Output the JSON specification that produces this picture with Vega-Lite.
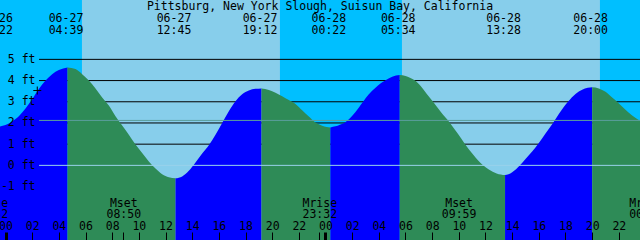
{
  "$schema": "https://vega.github.io/schema/vega-lite/v6.json",
  "width": 640,
  "height": 240,
  "autosize": {"type": "none"},
  "padding": 0,
  "background": "#87CEEB",
  "config": {
    "view": {"stroke": null},
    "font": "DejaVu Sans Mono",
    "axis": {"labelFont": "DejaVu Sans Mono", "labelFontSize": 11.5, "labelColor": "#000000", "domain": false, "grid": false, "labelFlush": false, "labelOverlap": false}
  },
  "title": {"text": "Pittsburg, New York Slough, Suisun Bay, California", "font": "DejaVu Sans Mono", "fontSize": 11.5, "fontWeight": "normal", "color": "#000000", "anchor": "middle", "frame": "group", "offset": -12},
  "resolve": {"axis": {"x": "independent"}},
  "layer": [
    {
      "data": {"values": [
        {"start": "2024-06-26T20:35", "end": "2024-06-27T05:44"},
        {"start": "2024-06-27T20:35", "end": "2024-06-28T05:44"},
        {"start": "2024-06-28T20:35", "end": "2024-06-29T05:45"}
      ]},
      "mark": {"type": "rect", "color": "#00BFFF"},
      "encoding": {
        "x": {"field": "start", "type": "temporal", "title": null,
          "scale": {"domain": [{"year": 2024, "month": 6, "date": 26, "hours": 22, "minutes": 35, "seconds": 15}, {"year": 2024, "month": 6, "date": 29, "hours": 0, "minutes": 35, "seconds": 15}], "range": [-13.3333, 653.3333], "nice": false},
          "axis": {"orient": "top", "title": null,
            "values": [
              {"year": 2024, "month": 6, "date": 26, "hours": 23, "minutes": 22},
              {"year": 2024, "month": 6, "date": 27, "hours": 4, "minutes": 39},
              {"year": 2024, "month": 6, "date": 27, "hours": 12, "minutes": 45},
              {"year": 2024, "month": 6, "date": 27, "hours": 19, "minutes": 12},
              {"year": 2024, "month": 6, "date": 28, "hours": 0, "minutes": 22},
              {"year": 2024, "month": 6, "date": 28, "hours": 5, "minutes": 34},
              {"year": 2024, "month": 6, "date": 28, "hours": 13, "minutes": 28},
              {"year": 2024, "month": 6, "date": 28, "hours": 20, "minutes": 0}
            ],
            "labelExpr": "[timeFormat(datum.value, '%m-%d'), timeFormat(datum.value, '%H:%M')]",
            "ticks": false, "tickSize": 0, "labelAlign": "center", "labelBaseline": "top", "labelPadding": -12.4, "labelLineHeight": 12, "labelOffset": -2, "zindex": 1}
        },
        "x2": {"field": "end"}
      }
    },
    {
      "data": {"values": [{"ft": 1}, {"ft": 2}, {"ft": 3}, {"ft": 4}, {"ft": 5}]},
      "mark": {"type": "rule", "color": "#000000", "strokeWidth": 1},
      "encoding": {
        "x": {"datum": {"year": 2024, "month": 6, "date": 27, "hours": 2, "minutes": 31}, "type": "temporal", "axis": null,
          "scale": {"domain": [{"year": 2024, "month": 6, "date": 26, "hours": 22, "minutes": 35, "seconds": 15}, {"year": 2024, "month": 6, "date": 29, "hours": 0, "minutes": 35, "seconds": 15}], "range": [-13.3333, 653.3333], "nice": false}},
        "x2": {"datum": {"year": 2024, "month": 6, "date": 29, "hours": 0, "minutes": 0}},
        "y": {"field": "ft", "type": "quantitative", "title": null, "scale": {"domain": [-3.52, 7.8], "zero": false, "nice": false},
          "axis": {"orient": "left", "title": null, "values": [-1, 0, 1, 2, 3, 4, 5], "labelExpr": "datum.value + ' ft'",
            "ticks": false, "tickSize": 0, "labelAlign": "right", "labelBaseline": "middle", "labelPadding": -35, "zindex": 1}}
      }
    },
    {
      "data": {"values": [
        {"t": "2024-06-26T23:22", "ft": 1.82, "seg": "r0", "dir": "rising"},
        {"t": "2024-06-27T00:00", "ft": 1.9, "seg": "r0", "dir": "rising"},
        {"t": "2024-06-27T00:30", "ft": 2.08, "seg": "r0", "dir": "rising"},
        {"t": "2024-06-27T01:00", "ft": 2.32, "seg": "r0", "dir": "rising"},
        {"t": "2024-06-27T01:30", "ft": 2.68, "seg": "r0", "dir": "rising"},
        {"t": "2024-06-27T02:00", "ft": 3.12, "seg": "r0", "dir": "rising"},
        {"t": "2024-06-27T02:30", "ft": 3.6, "seg": "r0", "dir": "rising"},
        {"t": "2024-06-27T03:00", "ft": 4.0, "seg": "r0", "dir": "rising"},
        {"t": "2024-06-27T03:30", "ft": 4.3, "seg": "r0", "dir": "rising"},
        {"t": "2024-06-27T04:00", "ft": 4.5, "seg": "r0", "dir": "rising"},
        {"t": "2024-06-27T04:39", "ft": 4.62, "seg": "r0", "dir": "rising"},
        {"t": "2024-06-27T04:39", "ft": 4.62, "seg": "f1", "dir": "falling"},
        {"t": "2024-06-27T05:15", "ft": 4.54, "seg": "f1", "dir": "falling"},
        {"t": "2024-06-27T05:45", "ft": 4.3, "seg": "f1", "dir": "falling"},
        {"t": "2024-06-27T06:15", "ft": 4.0, "seg": "f1", "dir": "falling"},
        {"t": "2024-06-27T06:45", "ft": 3.62, "seg": "f1", "dir": "falling"},
        {"t": "2024-06-27T07:15", "ft": 3.2, "seg": "f1", "dir": "falling"},
        {"t": "2024-06-27T07:45", "ft": 2.82, "seg": "f1", "dir": "falling"},
        {"t": "2024-06-27T08:15", "ft": 2.32, "seg": "f1", "dir": "falling"},
        {"t": "2024-06-27T08:45", "ft": 1.88, "seg": "f1", "dir": "falling"},
        {"t": "2024-06-27T09:15", "ft": 1.45, "seg": "f1", "dir": "falling"},
        {"t": "2024-06-27T09:45", "ft": 0.98, "seg": "f1", "dir": "falling"},
        {"t": "2024-06-27T10:15", "ft": 0.58, "seg": "f1", "dir": "falling"},
        {"t": "2024-06-27T10:45", "ft": 0.18, "seg": "f1", "dir": "falling"},
        {"t": "2024-06-27T11:15", "ft": -0.15, "seg": "f1", "dir": "falling"},
        {"t": "2024-06-27T11:45", "ft": -0.42, "seg": "f1", "dir": "falling"},
        {"t": "2024-06-27T12:15", "ft": -0.56, "seg": "f1", "dir": "falling"},
        {"t": "2024-06-27T12:45", "ft": -0.61, "seg": "f1", "dir": "falling"},
        {"t": "2024-06-27T12:45", "ft": -0.61, "seg": "r2", "dir": "rising"},
        {"t": "2024-06-27T13:15", "ft": -0.52, "seg": "r2", "dir": "rising"},
        {"t": "2024-06-27T13:45", "ft": -0.25, "seg": "r2", "dir": "rising"},
        {"t": "2024-06-27T14:15", "ft": 0.14, "seg": "r2", "dir": "rising"},
        {"t": "2024-06-27T14:45", "ft": 0.56, "seg": "r2", "dir": "rising"},
        {"t": "2024-06-27T15:15", "ft": 0.95, "seg": "r2", "dir": "rising"},
        {"t": "2024-06-27T15:45", "ft": 1.45, "seg": "r2", "dir": "rising"},
        {"t": "2024-06-27T16:15", "ft": 2.0, "seg": "r2", "dir": "rising"},
        {"t": "2024-06-27T16:45", "ft": 2.55, "seg": "r2", "dir": "rising"},
        {"t": "2024-06-27T17:15", "ft": 3.02, "seg": "r2", "dir": "rising"},
        {"t": "2024-06-27T17:45", "ft": 3.35, "seg": "r2", "dir": "rising"},
        {"t": "2024-06-27T18:15", "ft": 3.53, "seg": "r2", "dir": "rising"},
        {"t": "2024-06-27T18:45", "ft": 3.61, "seg": "r2", "dir": "rising"},
        {"t": "2024-06-27T19:12", "ft": 3.63, "seg": "r2", "dir": "rising"},
        {"t": "2024-06-27T19:12", "ft": 3.63, "seg": "f3", "dir": "falling"},
        {"t": "2024-06-27T19:45", "ft": 3.56, "seg": "f3", "dir": "falling"},
        {"t": "2024-06-27T20:15", "ft": 3.43, "seg": "f3", "dir": "falling"},
        {"t": "2024-06-27T20:45", "ft": 3.26, "seg": "f3", "dir": "falling"},
        {"t": "2024-06-27T21:15", "ft": 3.08, "seg": "f3", "dir": "falling"},
        {"t": "2024-06-27T21:45", "ft": 2.9, "seg": "f3", "dir": "falling"},
        {"t": "2024-06-27T22:15", "ft": 2.6, "seg": "f3", "dir": "falling"},
        {"t": "2024-06-27T22:45", "ft": 2.3, "seg": "f3", "dir": "falling"},
        {"t": "2024-06-27T23:15", "ft": 2.02, "seg": "f3", "dir": "falling"},
        {"t": "2024-06-27T23:45", "ft": 1.87, "seg": "f3", "dir": "falling"},
        {"t": "2024-06-28T00:05", "ft": 1.81, "seg": "f3", "dir": "falling"},
        {"t": "2024-06-28T00:22", "ft": 1.79, "seg": "f3", "dir": "falling"},
        {"t": "2024-06-28T00:22", "ft": 1.79, "seg": "r4", "dir": "rising"},
        {"t": "2024-06-28T00:45", "ft": 1.84, "seg": "r4", "dir": "rising"},
        {"t": "2024-06-28T01:05", "ft": 1.92, "seg": "r4", "dir": "rising"},
        {"t": "2024-06-28T01:28", "ft": 2.02, "seg": "r4", "dir": "rising"},
        {"t": "2024-06-28T01:50", "ft": 2.22, "seg": "r4", "dir": "rising"},
        {"t": "2024-06-28T02:15", "ft": 2.52, "seg": "r4", "dir": "rising"},
        {"t": "2024-06-28T02:49", "ft": 3.0, "seg": "r4", "dir": "rising"},
        {"t": "2024-06-28T03:15", "ft": 3.35, "seg": "r4", "dir": "rising"},
        {"t": "2024-06-28T03:45", "ft": 3.66, "seg": "r4", "dir": "rising"},
        {"t": "2024-06-28T04:10", "ft": 3.88, "seg": "r4", "dir": "rising"},
        {"t": "2024-06-28T04:28", "ft": 4.0, "seg": "r4", "dir": "rising"},
        {"t": "2024-06-28T05:00", "ft": 4.18, "seg": "r4", "dir": "rising"},
        {"t": "2024-06-28T05:34", "ft": 4.26, "seg": "r4", "dir": "rising"},
        {"t": "2024-06-28T05:34", "ft": 4.26, "seg": "f5", "dir": "falling"},
        {"t": "2024-06-28T06:00", "ft": 4.22, "seg": "f5", "dir": "falling"},
        {"t": "2024-06-28T06:20", "ft": 4.13, "seg": "f5", "dir": "falling"},
        {"t": "2024-06-28T06:43", "ft": 4.0, "seg": "f5", "dir": "falling"},
        {"t": "2024-06-28T07:10", "ft": 3.72, "seg": "f5", "dir": "falling"},
        {"t": "2024-06-28T07:35", "ft": 3.38, "seg": "f5", "dir": "falling"},
        {"t": "2024-06-28T08:04", "ft": 3.0, "seg": "f5", "dir": "falling"},
        {"t": "2024-06-28T08:40", "ft": 2.5, "seg": "f5", "dir": "falling"},
        {"t": "2024-06-28T09:20", "ft": 2.0, "seg": "f5", "dir": "falling"},
        {"t": "2024-06-28T09:55", "ft": 1.5, "seg": "f5", "dir": "falling"},
        {"t": "2024-06-28T10:28", "ft": 1.0, "seg": "f5", "dir": "falling"},
        {"t": "2024-06-28T11:05", "ft": 0.5, "seg": "f5", "dir": "falling"},
        {"t": "2024-06-28T11:49", "ft": 0.0, "seg": "f5", "dir": "falling"},
        {"t": "2024-06-28T12:15", "ft": -0.2, "seg": "f5", "dir": "falling"},
        {"t": "2024-06-28T12:50", "ft": -0.38, "seg": "f5", "dir": "falling"},
        {"t": "2024-06-28T13:28", "ft": -0.46, "seg": "f5", "dir": "falling"},
        {"t": "2024-06-28T13:28", "ft": -0.46, "seg": "r6", "dir": "rising"},
        {"t": "2024-06-28T14:00", "ft": -0.33, "seg": "r6", "dir": "rising"},
        {"t": "2024-06-28T14:35", "ft": 0.0, "seg": "r6", "dir": "rising"},
        {"t": "2024-06-28T15:00", "ft": 0.3, "seg": "r6", "dir": "rising"},
        {"t": "2024-06-28T15:30", "ft": 0.66, "seg": "r6", "dir": "rising"},
        {"t": "2024-06-28T15:56", "ft": 1.0, "seg": "r6", "dir": "rising"},
        {"t": "2024-06-28T16:30", "ft": 1.5, "seg": "r6", "dir": "rising"},
        {"t": "2024-06-28T17:04", "ft": 2.0, "seg": "r6", "dir": "rising"},
        {"t": "2024-06-28T17:30", "ft": 2.42, "seg": "r6", "dir": "rising"},
        {"t": "2024-06-28T18:11", "ft": 3.0, "seg": "r6", "dir": "rising"},
        {"t": "2024-06-28T18:45", "ft": 3.37, "seg": "r6", "dir": "rising"},
        {"t": "2024-06-28T19:15", "ft": 3.57, "seg": "r6", "dir": "rising"},
        {"t": "2024-06-28T19:40", "ft": 3.66, "seg": "r6", "dir": "rising"},
        {"t": "2024-06-28T20:00", "ft": 3.68, "seg": "r6", "dir": "rising"},
        {"t": "2024-06-28T20:00", "ft": 3.68, "seg": "f7", "dir": "falling"},
        {"t": "2024-06-28T20:30", "ft": 3.63, "seg": "f7", "dir": "falling"},
        {"t": "2024-06-28T21:00", "ft": 3.47, "seg": "f7", "dir": "falling"},
        {"t": "2024-06-28T21:30", "ft": 3.2, "seg": "f7", "dir": "falling"},
        {"t": "2024-06-28T21:52", "ft": 3.0, "seg": "f7", "dir": "falling"},
        {"t": "2024-06-28T22:30", "ft": 2.62, "seg": "f7", "dir": "falling"},
        {"t": "2024-06-28T23:00", "ft": 2.35, "seg": "f7", "dir": "falling"},
        {"t": "2024-06-28T23:35", "ft": 2.1, "seg": "f7", "dir": "falling"},
        {"t": "2024-06-29T00:00", "ft": 1.95, "seg": "f7", "dir": "falling"}
      ]},
      "mark": {"type": "area", "interpolate": "monotone"},
      "encoding": {
        "x": {"field": "t", "type": "temporal", "title": null,
          "scale": {"domain": [{"year": 2024, "month": 6, "date": 26, "hours": 22, "minutes": 35, "seconds": 15}, {"year": 2024, "month": 6, "date": 29, "hours": 0, "minutes": 35, "seconds": 15}], "range": [-13.3333, 653.3333], "nice": false},
          "axis": {"orient": "bottom", "title": null,
            "values": [
              {"year": 2024, "month": 6, "date": 27, "hours": 0}, {"year": 2024, "month": 6, "date": 27, "hours": 2},
              {"year": 2024, "month": 6, "date": 27, "hours": 4}, {"year": 2024, "month": 6, "date": 27, "hours": 6},
              {"year": 2024, "month": 6, "date": 27, "hours": 8}, {"year": 2024, "month": 6, "date": 27, "hours": 10},
              {"year": 2024, "month": 6, "date": 27, "hours": 12}, {"year": 2024, "month": 6, "date": 27, "hours": 14},
              {"year": 2024, "month": 6, "date": 27, "hours": 16}, {"year": 2024, "month": 6, "date": 27, "hours": 18},
              {"year": 2024, "month": 6, "date": 27, "hours": 20}, {"year": 2024, "month": 6, "date": 27, "hours": 22},
              {"year": 2024, "month": 6, "date": 28, "hours": 0}, {"year": 2024, "month": 6, "date": 28, "hours": 2},
              {"year": 2024, "month": 6, "date": 28, "hours": 4}, {"year": 2024, "month": 6, "date": 28, "hours": 6},
              {"year": 2024, "month": 6, "date": 28, "hours": 8}, {"year": 2024, "month": 6, "date": 28, "hours": 10},
              {"year": 2024, "month": 6, "date": 28, "hours": 12}, {"year": 2024, "month": 6, "date": 28, "hours": 14},
              {"year": 2024, "month": 6, "date": 28, "hours": 16}, {"year": 2024, "month": 6, "date": 28, "hours": 18},
              {"year": 2024, "month": 6, "date": 28, "hours": 20}, {"year": 2024, "month": 6, "date": 28, "hours": 22}
            ],
            "labelExpr": "timeFormat(datum.value, '%H')",
            "ticks": true, "tickSize": -8, "tickColor": "#000000",
            "tickWidth": {"condition": {"test": "timeFormat(datum.value, '%H') == '00'", "value": 3}, "value": 1},
            "labelAlign": "center", "labelBaseline": "top", "labelPadding": -11.2, "zindex": 1}
        },
        "y": {"field": "ft", "type": "quantitative", "stack": null, "title": null,
          "scale": {"domain": [-3.52, 7.8], "zero": false, "nice": false},
          "axis": {"orient": "left", "title": null, "values": [-1, 0, 1, 2, 3, 4, 5], "labelExpr": "datum.value + ' ft'",
            "ticks": false, "tickSize": 0, "labelAlign": "right", "labelBaseline": "middle", "labelPadding": -35, "zindex": 1}
        },
        "y2": {"datum": -4},
        "color": {"field": "dir", "type": "nominal", "legend": null,
          "scale": {"domain": ["rising", "falling", "datum", "mean"], "range": ["#0000FF", "#2E8B57", "#9AD2EA", "#5A9E9C"]}},
        "detail": {"field": "seg"}
      }
    },
    {
      "data": {"values": [{"ft": 0, "dir": "datum"}, {"ft": 2.12, "dir": "mean"}]},
      "mark": {"type": "rule", "strokeWidth": 1},
      "encoding": {
        "x": {"datum": {"year": 2024, "month": 6, "date": 27, "hours": 2, "minutes": 31}, "type": "temporal", "axis": null,
          "scale": {"domain": [{"year": 2024, "month": 6, "date": 26, "hours": 22, "minutes": 35, "seconds": 15}, {"year": 2024, "month": 6, "date": 29, "hours": 0, "minutes": 35, "seconds": 15}], "range": [-13.3333, 653.3333], "nice": false}},
        "x2": {"datum": {"year": 2024, "month": 6, "date": 29, "hours": 0, "minutes": 0}},
        "y": {"field": "ft", "type": "quantitative", "title": null, "scale": {"domain": [-3.52, 7.8], "zero": false, "nice": false},
          "axis": {"orient": "left", "title": null, "values": [-1, 0, 1, 2, 3, 4, 5], "labelExpr": "datum.value + ' ft'",
            "ticks": false, "tickSize": 0, "labelAlign": "right", "labelBaseline": "middle", "labelPadding": -35, "zindex": 1}},
        "color": {"field": "dir", "type": "nominal", "legend": null,
          "scale": {"domain": ["rising", "falling", "datum", "mean"], "range": ["#0000FF", "#2E8B57", "#9AD2EA", "#5A9E9C"]}}
      }
    },
    {
      "data": {"values": [{"t": "2024-06-27T02:23", "ft": 3.53}]},
      "mark": {"type": "point", "shape": "M-1,0L1,0M0,-1L0,1", "size": 64, "filled": false, "stroke": "#000000", "strokeWidth": 1, "opacity": 1},
      "encoding": {
        "x": {"field": "t", "type": "temporal", "title": null,
          "scale": {"domain": [{"year": 2024, "month": 6, "date": 26, "hours": 22, "minutes": 35, "seconds": 15}, {"year": 2024, "month": 6, "date": 29, "hours": 0, "minutes": 35, "seconds": 15}], "range": [-13.3333, 653.3333], "nice": false},
          "axis": {"orient": "bottom", "title": null,
            "values": [
              {"year": 2024, "month": 6, "date": 26, "hours": 22, "minutes": 52},
              {"year": 2024, "month": 6, "date": 27, "hours": 8, "minutes": 50},
              {"year": 2024, "month": 6, "date": 27, "hours": 23, "minutes": 32},
              {"year": 2024, "month": 6, "date": 28, "hours": 9, "minutes": 59},
              {"year": 2024, "month": 6, "date": 29, "hours": 0, "minutes": 2}
            ],
            "labelExpr": "[(timeFormat(datum.value, '%H') < '12' && timeFormat(datum.value, '%H') > '03') ? 'Mset' : 'Mrise', timeFormat(datum.value, '%H:%M')]",
            "ticks": true, "tickSize": -8, "tickColor": "#000000", "tickWidth": 1,
            "labelAlign": "center", "labelBaseline": "top", "labelPadding": -34.6, "labelLineHeight": 11, "zindex": 1}},
        "y": {"field": "ft", "type": "quantitative", "title": null, "scale": {"domain": [-3.52, 7.8], "zero": false, "nice": false},
          "axis": {"orient": "left", "title": null, "values": [-1, 0, 1, 2, 3, 4, 5], "labelExpr": "datum.value + ' ft'",
            "ticks": false, "tickSize": 0, "labelAlign": "right", "labelBaseline": "middle", "labelPadding": -35, "zindex": 1}}
      }
    }
  ]
}
